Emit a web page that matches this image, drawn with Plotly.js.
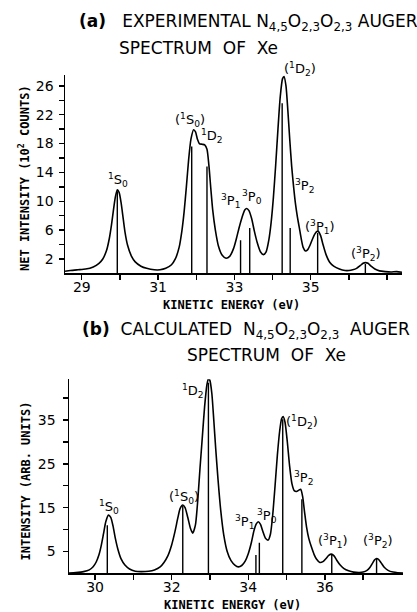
<!DOCTYPE html>
<html><head><meta charset="utf-8">
<script src="https://cdn.plot.ly/plotly-3.0.1.min.js"></script>
<style>html,body{margin:0;padding:0;background:#fff;}#chart{width:417px;height:612px;}</style>
</head><body><div id="chart"></div>
<script>
// ---- Panel (a): experimental spectrum ----
const expE = [28.56,28.7,28.9,29.1,29.3,29.45,29.55,29.65,29.72,29.78,29.83,29.88,29.93,29.98,30.03,30.08,30.13,30.2,30.3,30.4,30.55,30.7,30.9,31.05,31.2,31.35,31.45,31.55,31.62,31.68,31.74,31.8,31.86,31.93,31.98,32.03,32.08,32.15,32.22,32.28,32.33,32.38,32.43,32.5,32.58,32.68,32.78,32.88,32.98,33.05,33.12,33.2,33.27,33.32,33.38,33.45,33.52,33.6,33.68,33.76,33.83,33.9,33.96,34.02,34.08,34.14,34.2,34.26,34.3,34.35,34.4,34.45,34.5,34.55,34.6,34.65,34.7,34.75,34.8,34.86,34.92,34.98,35.04,35.1,35.16,35.2,35.26,35.32,35.4,35.5,35.6,35.75,35.9,36.0,36.1,36.2,36.3,36.37,36.43,36.5,36.58,36.68,36.8,36.95,37.1,37.25,37.39];
const expI = [0.3,0.4,0.5,0.6,0.9,1.4,2.0,3.2,4.8,6.8,8.8,10.6,11.6,11.2,9.8,7.8,5.8,3.9,2.4,1.6,1.0,0.7,0.5,0.5,0.7,1.2,2.0,3.6,5.8,8.5,12.0,15.8,18.6,19.9,19.6,18.6,18.0,17.9,17.8,17.2,15.0,11.8,8.8,6.0,3.8,2.5,2.1,2.4,3.5,4.8,6.3,7.8,8.8,9.0,8.7,7.6,5.9,4.2,3.0,2.6,3.0,4.6,7.0,10.5,15.0,20.0,24.5,27.0,27.3,26.0,22.5,18.5,14.8,12.0,9.6,7.8,6.3,4.8,3.6,3.1,3.3,3.9,4.7,5.4,5.8,5.8,5.2,4.0,2.6,1.5,1.0,0.6,0.4,0.4,0.5,0.7,1.1,1.4,1.5,1.4,1.0,0.6,0.35,0.25,0.2,0.25,0.15];
const expStickE = [29.93,31.88,32.28,33.16,33.40,34.25,34.46,35.18,36.43];
const expStickH = [11.4,17.6,14.8,4.6,6.3,23.6,6.3,5.6,1.3];
const expLabels = ["<sup>1</sup>S<sub>0</sub>","(<sup>1</sup>S<sub>0</sub>)","<sup>1</sup>D<sub>2</sub>","<sup>3</sup>P<sub>1</sub>","<sup>3</sup>P<sub>0</sub>","(<sup>1</sup>D<sub>2</sub>)","<sup>3</sup>P<sub>2</sub>","(<sup>3</sup>P<sub>1</sub>)","(<sup>3</sup>P<sub>2</sub>)"];
const expLabelE = [29.95,31.83,32.40,32.90,33.46,34.73,34.83,35.25,36.45];
const expLabelI = [13.0,21.3,19.0,10.0,10.6,27.3,12.1,6.4,2.7];
const expLabelShift = [0,0,0,0,0,7,0,0,0];
const expXTicks = [29,31,33,35];
const expXMinor = [29,30,31,32,33,34,35,36,37];
const expYTicks = [2,6,10,14,18,22,26];
const expYMinor = [2,4,6,8,10,12,14,16,18,20,22,24,26];

// ---- Panel (b): calculated spectrum ----
const calE = [29.32,29.5,29.7,29.85,29.95,30.03,30.1,30.16,30.22,30.28,30.35,30.41,30.47,30.53,30.6,30.68,30.78,30.9,31.05,31.2,31.4,31.55,31.7,31.8,31.9,32.0,32.08,32.16,32.22,32.29,32.35,32.42,32.49,32.55,32.62,32.68,32.74,32.8,32.86,32.92,32.96,33.0,33.05,33.1,33.15,33.21,33.28,33.36,33.45,33.55,33.65,33.74,33.83,33.92,34.0,34.08,34.15,34.21,34.26,34.32,34.38,34.45,34.52,34.58,34.64,34.7,34.76,34.82,34.87,34.91,34.96,35.02,35.08,35.14,35.2,35.26,35.32,35.37,35.42,35.47,35.52,35.58,35.65,35.72,35.78,35.87,35.95,36.03,36.1,36.17,36.24,36.31,36.4,36.5,36.62,36.75,36.9,37.0,37.1,37.18,37.25,37.3,37.35,37.4,37.47,37.55,37.65,37.78,37.9,38.04];
const calI = [0.1,0.2,0.4,0.8,1.5,2.6,4.2,6.3,9.0,11.8,13.3,12.8,10.8,8.0,5.4,3.3,1.9,1.0,0.5,0.4,0.5,0.8,1.5,2.5,4.0,6.5,9.3,12.6,14.8,15.6,15.0,12.8,10.3,9.2,11.0,16.5,24.0,31.0,38.0,43.0,44.5,44.0,41.0,35.0,28.5,21.5,14.5,8.8,5.0,2.9,1.9,1.5,1.8,2.8,4.5,7.0,9.8,11.3,11.8,11.2,9.6,8.0,7.6,9.0,13.5,20.0,27.0,32.5,35.3,35.8,34.5,30.0,24.5,20.5,18.9,18.7,19.0,19.2,17.5,14.0,10.7,8.0,6.0,4.3,3.3,2.5,2.7,3.4,4.1,4.4,4.0,3.0,1.9,1.1,0.6,0.3,0.2,0.3,0.7,1.4,2.4,3.1,3.4,3.2,2.4,1.4,0.7,0.3,0.15,0.1];
const calStickE = [30.32,32.29,32.96,34.20,34.29,34.90,35.40,36.18,37.35];
const calStickH = [11.0,15.4,43.5,4.2,7.0,35.2,16.9,4.3,3.3];
const calLabels = ["<sup>1</sup>S<sub>0</sub>","(<sup>1</sup>S<sub>0</sub>)","<sup>1</sup>D<sub>2</sub>","<sup>3</sup>P<sub>1</sub>","<sup>3</sup>P<sub>0</sub>","(<sup>1</sup>D<sub>2</sub>)","<sup>3</sup>P<sub>2</sub>","(<sup>3</sup>P<sub>1</sub>)","(<sup>3</sup>P<sub>2</sub>)"];
const calLabelE = [30.37,32.32,32.56,33.89,34.50,35.40,35.43,36.21,37.39];
const calLabelI = [15.2,17.5,41.7,11.7,13.2,34.6,21.8,7.4,7.4];
const calXTicks = [30,32,34,36];
const calXMinor = [30,31,32,33,34,35,36,37];
const calYTicks = [5,15,25,35];
const calYMinor = [5,10,15,20,25,30,35,40];

function sticks(E, H){
  const x=[], y=[];
  E.forEach((e,i)=>{ x.push(e,e,null); y.push(0,H[i],null); });
  return {x,y};
}
const sa = sticks(expStickE, expStickH);
const sb = sticks(calStickE, calStickH);

const traces = [
  {x:expE, y:expI, mode:'lines', line:{color:'#000', width:1.6, shape:'spline', smoothing:0.6}, xaxis:'x', yaxis:'y', hoverinfo:'skip', cliponaxis:false},
  {x:sa.x, y:sa.y, mode:'lines', line:{color:'#000', width:1.4}, xaxis:'x', yaxis:'y', hoverinfo:'skip'},
  {x:calE, y:calI, mode:'lines', line:{color:'#000', width:1.6, shape:'spline', smoothing:0.6}, xaxis:'x2', yaxis:'y2', hoverinfo:'skip', cliponaxis:false},
  {x:sb.x, y:sb.y, mode:'lines', line:{color:'#000', width:1.4}, xaxis:'x2', yaxis:'y2', hoverinfo:'skip'}
];

const tickFont = {family:'DejaVu Sans, sans-serif', size:14, color:'#000'};
function ax(domain, range, tv, minor, anchor, standoff){
  return {domain, range, tickmode:'array', tickvals:tv, ticktext:tv.map(String), ticks:'outside', ticklen:5, tickwidth:1.4, tickcolor:'#000',
    minor:{tickmode:'array', tickvals:minor, ticks:'outside', ticklen:5, tickwidth:1.4, tickcolor:'#000', showgrid:false},
    ticklabelstandoff: standoff,
    showline:true, linecolor:'#000', linewidth:1.5, showgrid:false, zeroline:false, tickfont:tickFont, anchor, fixedrange:true};
}

const ann = [];
const labFont = {family:'DejaVu Sans, sans-serif', size:13, color:'#000'};
expLabels.forEach((t,i)=>ann.push({x:expLabelE[i], y:expLabelI[i], yshift:expLabelShift[i], xref:'x', yref:'y', text:t, showarrow:false, font:labFont}));
calLabels.forEach((t,i)=>ann.push({x:calLabelE[i], y:calLabelI[i], xref:'x2', yref:'y2', text:t, showarrow:false, font:labFont}));

const titleFont = {family:'DejaVu Sans, sans-serif', size:17, color:'#000'};
const axFont = {family:'DejaVu Sans Mono, monospace', size:12, color:'#000'};
ann.push(
  {xref:'paper', yref:'paper', x:77/417, y:1-23/612, xanchor:'left', yanchor:'middle', showarrow:false, font:titleFont,
   text:'<b>(a)</b>   EXPERIMENTAL N<sub>4,5</sub>O<sub>2,3</sub>O<sub>2,3</sub> AUGER'},
  {xref:'paper', yref:'paper', x:117/417, y:1-48/612, xanchor:'left', yanchor:'middle', showarrow:false, font:titleFont,
   text:'SPECTRUM  OF  Xe'},
  {xref:'paper', yref:'paper', x:80/417, y:1-330/612, xanchor:'left', yanchor:'middle', showarrow:false, font:titleFont,
   text:'<b>(b)</b>  CALCULATED  N<sub>4,5</sub>O<sub>2,3</sub>O<sub>2,3</sub>  AUGER'},
  {xref:'paper', yref:'paper', x:185/417, y:1-355/612, xanchor:'left', yanchor:'middle', showarrow:false, font:titleFont,
   text:'SPECTRUM  OF  Xe'},
  {xref:'paper', yref:'paper', x:231/417, y:1-305/612, xanchor:'center', yanchor:'middle', showarrow:false, font:axFont,
   text:'<b>KINETIC ENERGY (eV)</b>'},
  {xref:'paper', yref:'paper', x:232/417, y:1-605/612, xanchor:'center', yanchor:'middle', showarrow:false, font:axFont,
   text:'<b>KINETIC ENERGY (eV)</b>'},
  {xref:'paper', yref:'paper', x:23.5/417, y:1-178.5/612, xanchor:'center', yanchor:'middle', showarrow:false, font:axFont, textangle:-90,
   text:'<b>NET INTENSITY (10<sup>2</sup> COUNTS)</b>'},
  {xref:'paper', yref:'paper', x:25.5/417, y:1-481/612, xanchor:'center', yanchor:'middle', showarrow:false, font:axFont, textangle:-90,
   text:'<b>INTENSITY (ARB. UNITS)</b>'}
);

const layout = {
  width:417, height:612, margin:{l:0,r:0,t:0,b:0}, paper_bgcolor:'#fff', plot_bgcolor:'#fff', showlegend:false,
  font:{family:'DejaVu Sans, sans-serif', color:'#000'},
  xaxis: ax([65/417, 402/417], [28.56, 37.39], expXTicks, expXMinor, 'y', -5),
  yaxis: ax([1-273.4/612, 1-75/612], [0, 27.5], expYTicks, expYMinor, 'x', 2),
  xaxis2: ax([69/417, 403/417], [29.32, 38.04], calXTicks, calXMinor, 'y2', -5),
  yaxis2: ax([1-573.4/612, 1-379.3/612], [0, 44.3], calYTicks, calYMinor, 'x2', 4),
  annotations: ann
};
Plotly.newPlot('chart', traces, layout, {displayModeBar:false, staticPlot:true});
</script></body></html>
